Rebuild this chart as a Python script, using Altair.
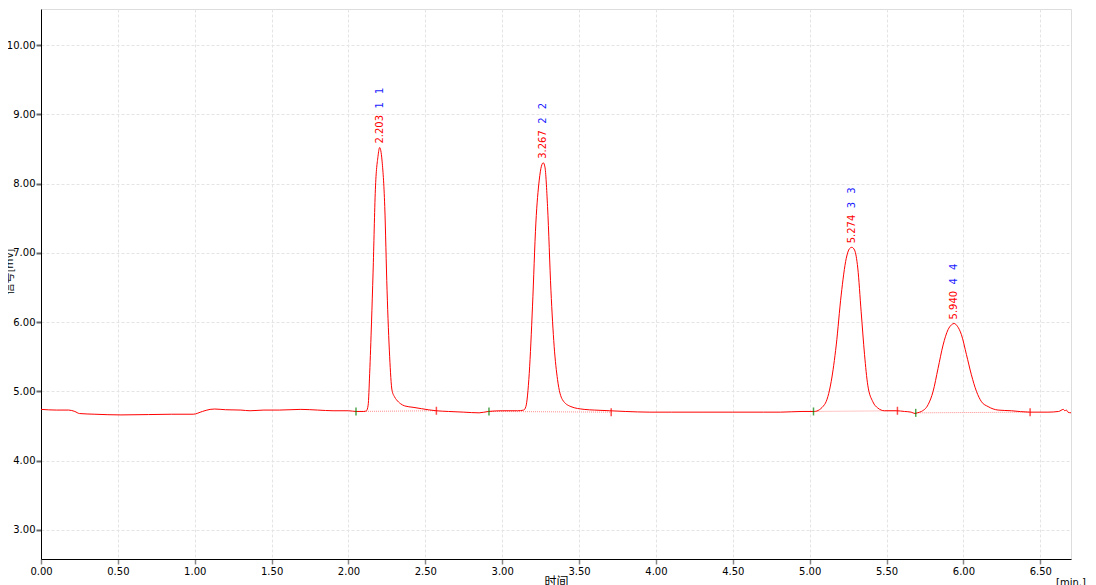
import altair as alt
import pandas as pd

# ---- chromatogram trace (time in min, signal in mV) ----
time_min = [
    0.00, 0.10, 0.18, 0.22, 0.25, 0.35, 0.52, 0.70, 0.85, 0.99, 1.05, 1.10, 1.13, 1.20,
    1.30, 1.36, 1.45, 1.55, 1.69, 1.80, 1.90, 2.00, 2.05, 2.10,
    2.117, 2.128, 2.138, 2.150, 2.160, 2.175, 2.192, 2.203, 2.218, 2.236, 2.251, 2.268,
    2.283, 2.300, 2.312, 2.340, 2.366, 2.420, 2.475, 2.570, 2.65, 2.75, 2.85, 2.91, 3.00,
    3.10, 3.14,
    3.154, 3.176, 3.197, 3.219, 3.241, 3.255, 3.267, 3.278, 3.295, 3.317, 3.338, 3.360,
    3.392, 3.447, 3.533, 3.60, 3.70, 3.80, 3.96, 4.10, 4.30, 4.50, 4.70, 4.81, 4.95, 5.03,
    5.097, 5.140, 5.173, 5.205, 5.238, 5.259, 5.274, 5.292, 5.313, 5.335, 5.357, 5.378,
    5.411, 5.443, 5.487, 5.563, 5.617, 5.660, 5.686, 5.70,
    5.727, 5.771, 5.803, 5.835, 5.868, 5.900, 5.922, 5.940, 5.961, 5.987, 6.020, 6.052,
    6.085, 6.118, 6.161, 6.226, 6.313, 6.43, 6.55, 6.62, 6.65, 6.66, 6.67, 6.68, 6.70,
]
signal_mv = [
    4.74, 4.73, 4.73, 4.71, 4.68, 4.67, 4.66, 4.665, 4.67, 4.67, 4.71, 4.74, 4.745, 4.735,
    4.73, 4.72, 4.73, 4.73, 4.74, 4.73, 4.72, 4.72, 4.71, 4.71,
    4.72, 4.80, 5.26, 6.00, 6.71, 7.91, 8.39, 8.52, 8.34, 7.67, 6.46, 5.50,
    5.02, 4.92, 4.88, 4.82, 4.79, 4.77, 4.75, 4.72, 4.71, 4.70, 4.69, 4.71, 4.72,
    4.72, 4.73,
    4.78, 5.26, 6.22, 7.43, 8.05, 8.25, 8.30, 8.24, 7.67, 6.46, 5.65, 5.17,
    4.88, 4.78, 4.74, 4.73, 4.72, 4.71, 4.70, 4.70, 4.70, 4.70, 4.70, 4.70, 4.71, 4.71,
    4.81, 5.14, 5.67, 6.39, 6.92, 7.06, 7.08, 7.04, 6.78, 6.15, 5.53, 5.09,
    4.85, 4.76, 4.72, 4.72, 4.71, 4.70, 4.68, 4.69,
    4.71, 4.81, 5.00, 5.33, 5.67, 5.89, 5.96, 5.98, 5.94, 5.82, 5.53, 5.24,
    5.00, 4.85, 4.78, 4.73, 4.72, 4.70, 4.70, 4.71, 4.74, 4.72, 4.73, 4.70, 4.69,
]

# ---- peak table ----
peak_rt = [2.203, 3.267, 5.274, 5.940]
peak_height = [8.52, 8.30, 7.08, 5.98]
peak_rt_label = ["2.203", "3.267", "5.274", "5.940"]
peak_id_label = ["1\u2002\u00a01", "2\u2002\u00a02", "3\u2002\u00a03", "4\u2002\u00a04"]

# ---- integration baselines ----
base_start_t = [2.049, 2.914, 5.025, 5.690]
base_start_v = [4.71, 4.71, 4.71, 4.69]
base_end_t = [2.572, 3.709, 5.571, 6.434]
base_end_v = [4.72, 4.70, 4.72, 4.70]

x_ticks = [0.0, 0.5, 1.0, 1.5, 2.0, 2.5, 3.0, 3.5, 4.0, 4.5, 5.0, 5.5, 6.0, 6.5]
y_ticks = [3, 4, 5, 6, 7, 8, 9, 10]

trace = pd.DataFrame({"t": time_min, "v": signal_mv})
peaks = pd.DataFrame({"t": peak_rt, "h": peak_height, "rt": peak_rt_label, "pid": peak_id_label})
bases = pd.DataFrame({"t1": base_start_t, "v1": base_start_v, "t2": base_end_t, "v2": base_end_v})
marks_df = pd.DataFrame({
    "t": base_start_t + base_end_t,
    "v": base_start_v + base_end_v,
    "kind": ["start"] * 4 + ["end"] * 4,
})
unit_df = pd.DataFrame({"t": [6.70], "v": [2.31], "txt": ["[min.]"]})

FONT = "DejaVu Sans"
CJK = "Noto Sans CJK SC"

xs = alt.Scale(domain=[0, 6.70], nice=False, zero=False)
ys = alt.Scale(domain=[2.58, 10.52], nice=False, zero=False)

x_axis = alt.Axis(
    values=x_ticks, format=".2f", title="时间", titleFont=CJK, titleFontSize=12,
    titleFontWeight="normal", titleColor="#000", titleBaseline="top", titleY=17,
    labelFont=FONT, labelFontSize=10, labelColor="#000", labelPadding=2,
    tickColor="#888", tickSize=5, tickWidth=1.5, domainColor="#000",
    grid=True, gridColor="#e4e4e4", gridDash=[3, 2], labelFlush=False,
)
y_axis = alt.Axis(
    values=y_ticks, format=".2f", title="信号[mV]", titleFont=CJK, titleFontSize=11,
    titleFontWeight="normal", titleColor="#000", titleAngle=270, titleBaseline="bottom",
    titleX=-27, titleY=262, titleAlign="center",
    labelFont=FONT, labelFontSize=10, labelColor="#000", labelPadding=1,
    tickColor="#666", tickSize=5, tickWidth=2, domainColor="#000",
    grid=True, gridColor="#e4e4e4", gridDash=[3, 2],
)

line = alt.Chart(trace).mark_line(color="#ff0000", strokeWidth=1, interpolate="monotone").encode(
    x=alt.X("t:Q", scale=xs, axis=x_axis),
    y=alt.Y("v:Q", scale=ys, axis=y_axis),
)

baselines = alt.Chart(bases).mark_rule(color="#ff8c8c", strokeWidth=1, strokeDash=[1, 1]).encode(
    x="t1:Q", x2="t2:Q", y="v1:Q", y2="v2:Q",
)

markers = alt.Chart(marks_df).mark_tick(orient="vertical", size=8, thickness=1.5).encode(
    x="t:Q", y="v:Q",
    color=alt.Color("kind:N", scale=alt.Scale(domain=["start", "end"], range=["#008000", "#ff0000"]), legend=None),
)

rt_text = alt.Chart(peaks).mark_text(
    angle=270, align="left", baseline="middle", dx=4, font=FONT, fontSize=10, color="#ff0000",
).encode(x="t:Q", y="h:Q", text="rt:N")

id_text = alt.Chart(peaks).mark_text(
    angle=270, align="left", baseline="middle", dx=39, font=FONT, fontSize=10, color="#1a1aff",
).encode(x="t:Q", y="h:Q", text="pid:N")

unit_text = alt.Chart(unit_df).mark_text(
    align="center", baseline="top", font=FONT, fontSize=10, color="#000",
).encode(x="t:Q", y="v:Q", text="txt:N")

chart = alt.layer(baselines, line, markers, rt_text, id_text, unit_text).properties(
    width=1030, height=550,
    autosize=alt.AutoSizeParams(type="none"),
    padding={"left": 33, "top": 1, "right": 17, "bottom": 30},
).configure_view(stroke="#000", strokeWidth=1.2).configure(background="white")

chart.save("out.html", embed_options={"renderer": "svg", "actions": False})
